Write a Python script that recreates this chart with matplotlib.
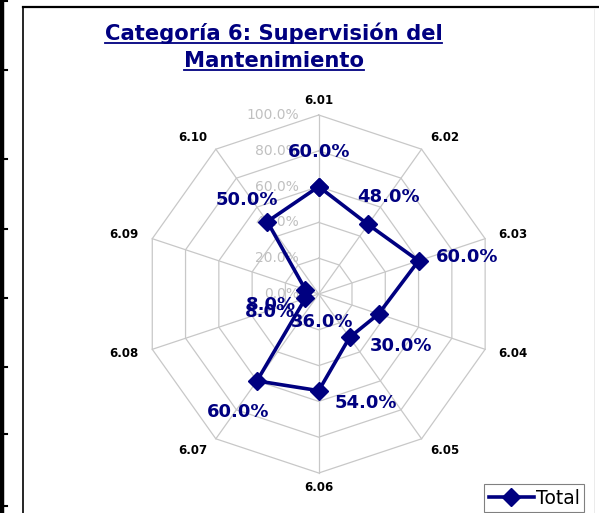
import numpy as np
import matplotlib
matplotlib.use("Agg")
from matplotlib import pyplot as plt
from matplotlib.lines import Line2D

# datos
categorias = ["6.01", "6.02", "6.03", "6.04", "6.05",
              "6.06", "6.07", "6.08", "6.09", "6.10"]
total = [60.0, 48.0, 60.0, 36.0, 30.0, 54.0, 60.0, 8.0, 8.0, 50.0]
niveles = [0, 20, 40, 60, 80, 100]
serie = "Total"
titulo = ["Categoría 6: Supervisión del", "Mantenimiento"]

# desplazamiento de las etiquetas de datos (pixeles)
offsets = [(0, 35), (20, 27), (49, 4), (-57, -8), (52, -9),
           (47, -12), (-19, -31), (-35, -14), (-34, -15), (-20, 22)]

azul = "#000080"
gris = "#c8c8c8"

W, H = 599, 513
fig = plt.figure(figsize=(W / 100, H / 100), dpi=100)
fig.patch.set_facecolor("white")

# ejes: centro en (318.7, 294), radio 175 x 179 px
cx, cy, rx, ry = 318.7, 294.0, 175.0, 179.0
lim = 1.3
ax = fig.add_axes([(cx - lim * rx) / W, (H - cy - lim * ry) / H,
                   2 * lim * rx / W, 2 * lim * ry / H])
ax.set_xlim(-lim, lim)
ax.set_ylim(-lim, lim)
ax.axis("off")

n = len(categorias)
ang = np.arange(n) * 2 * np.pi / n
sx, sy = np.sin(ang), np.cos(ang)

# rejilla
for lv in niveles[1:]:
    r = lv / 100
    ax.plot(np.append(sx, sx[0]) * r, np.append(sy, sy[0]) * r,
            color=gris, lw=0.9, zorder=1)
for i in range(n):
    ax.plot([0, sx[i]], [0, sy[i]], color=gris, lw=0.9, zorder=1)

# etiquetas del eje radial
for lv in niveles:
    ax.annotate(f"{lv:.1f}%", (0, lv / 100), xytext=(-20, 0),
                textcoords="offset pixels", ha="right", va="center",
                fontsize=10, color="#c0c0c0", zorder=2)

# categorias
for i, c in enumerate(categorias):
    s = np.round(sx[i], 3)
    ha = "center" if s == 0 else ("left" if s > 0 else "right")
    ax.text(sx[i] * 1.08, sy[i] * 1.08, c, ha=ha, va="center",
            fontsize=8.5, fontweight="bold", color="black")

# serie
v = np.array(total) / 100
ax.plot(np.append(sx * v, sx[0] * v[0]), np.append(sy * v, sy[0] * v[0]),
        color=azul, lw=2.6, marker="D", markersize=9.5, zorder=3,
        label=serie)
for i in range(n):
    ax.annotate(f"{total[i]:.1f}%", (sx[i] * v[i], sy[i] * v[i]),
                xytext=offsets[i], textcoords="offset pixels",
                ha="center", va="center", fontsize=13,
                fontweight="bold", color=azul, zorder=4)

leg = ax.legend(loc="upper left", bbox_to_anchor=(484 / W, 1 - 484 / H),
                bbox_transform=fig.transFigure, fancybox=False,
                edgecolor="#808080", framealpha=1, fontsize=13.5,
                handlelength=2.4, borderpad=0.25, handletextpad=0.1,
                borderaxespad=0)
leg.get_frame().set_linewidth(0.8)


def linea(x0, y0, x1, y1, lw, color="black"):
    fig.add_artist(Line2D([x0 / W, x1 / W], [1 - y0 / H, 1 - y1 / H],
                          transform=fig.transFigure, lw=lw, color=color))


# bordes de la tabla y del grafico
linea(2, 0, 2, H, 3.2)
for y in [1, 70, 159, 229, 298, 367, 434, 506]:
    linea(0, y, 7, y, 1.5)
linea(23, 7, 23, H, 1.2)
linea(23, 7, W, 7, 1.6)
linea(594, 8, 594, H, 0.6, "#e8e8e8")

# titulo subrayado
bases = [40, 66.7]
textos = []
for t, b in zip(titulo, bases):
    textos.append(fig.text(273.5 / W, 1 - b / H, t, ha="center",
                           va="baseline", fontsize=15.2, fontweight="bold",
                           color=azul))
fig.canvas.draw()
r = fig.canvas.get_renderer()
for t, b in zip(textos, bases):
    bb = t.get_window_extent(r)
    linea(bb.x0, b + 3.3, bb.x1, b + 3.3, 1.3, azul)

fig.savefig("out.png", dpi=100)
